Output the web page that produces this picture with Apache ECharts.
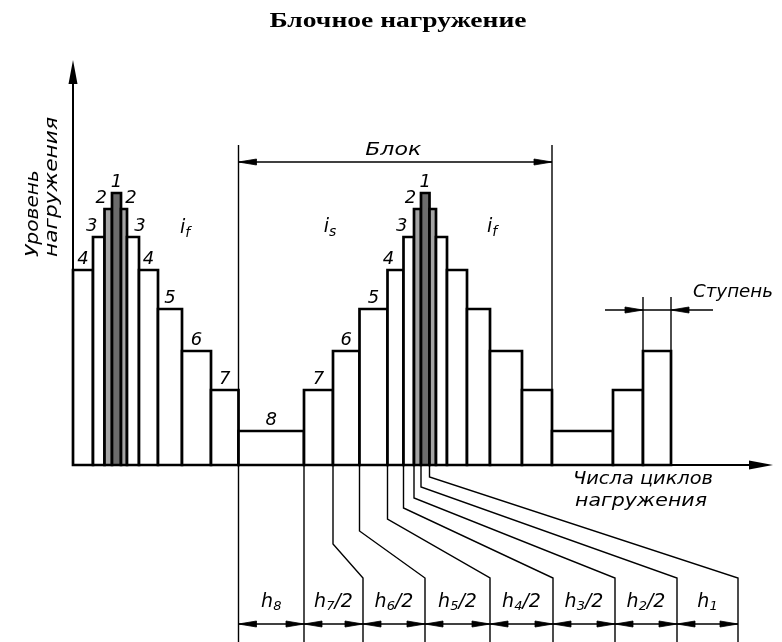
<!DOCTYPE html>
<html><head><meta charset="utf-8">
<script src="https://cdn.jsdelivr.net/npm/echarts@6/dist/echarts.min.js"></script>
<style>html,body{margin:0;padding:0;background:#fff}#c{width:782px;height:642px}</style>
</head><body><div id="c"></div>
<script>
// ---------------- DATA ----------------
const chartTitle = 'Блочное нагружение';
const levelNames = ['1', '2', '3', '4', '5', '6', '7', '8'];
const levelValues = [272, 256, 228, 195, 156, 114, 75, 34];          // load level of each step number
const stepLevels = [4, 3, 2, 1, 2, 3, 4, 5, 6, 7,
                    8, 7, 6, 5, 4, 3, 2, 1, 2, 3, 4, 5, 6, 7,
                    8, 7, 6];                                          // sequence of load steps
const stepCycles = [20, 11.5, 7.5, 9, 6, 12, 19, 24, 29, 27.5,
                    65.5, 29, 26.5, 28, 16, 10.5, 7, 8.5, 6.5, 11, 20, 23, 32, 30,
                    61, 30, 28];                                       // cycles in each step
const stepLabeled = [1, 1, 1, 1, 1, 1, 1, 1, 1, 1,
                     1, 1, 1, 1, 1, 1, 1, 1, 0, 0, 0, 0, 0, 0,
                     0, 0, 0];
const countLabels = [['8', ''], ['7', '/2'], ['6', '/2'], ['5', '/2'], ['4', '/2'], ['3', '/2'], ['2', '/2'], ['1', '']];
const countCycles = [65.5, 59, 62, 65, 63, 62, 62, 61];               // dimension chain below the axis
const zoneSubs = ['f', 's', 'f'];
const yName = ['Уровень', 'нагружения'];
const xName = ['Числа циклов', 'нагружения'];
const blockName = 'Блок';
const stepName = 'Ступень';

// ---------------- LAYOUT ----------------
const FONT = '"DejaVu Sans", sans-serif';
const cv = document.createElement('canvas').getContext('2d');
function tw(font, s) { cv.font = font; return cv.measureText(s).width; }

const stepEdges = [0];
stepCycles.forEach(function (w, i) { stepEdges.push(stepEdges[i] + w); });
const countEdges = [stepEdges[10]];
countCycles.forEach(function (w, i) { countEdges.push(countEdges[i] + w); });

const blockStartIdx = 10, blockEndIdx = 24;
const stepDimIdx = 26;
const connectorFrom = [12, 13, 14, 15, 16, 17, 18];
const connectorKnee = [-79, -66, -54, -43, -33, -22, -12];
const kneeBottom = -113, chainY = -159, chainLabelY = -137, bottomY = -185;
const zonePos = [[112, 237], [257, 238], [419, 238]];

const barData = stepLevels.map(function (lvl, i) {
  const w = stepCycles[i];
  let shift = 0;
  if (w <= 16 && lvl !== 1) {
    const next = stepLevels[i + 1], prev = stepLevels[i - 1];
    if (next != null && next < lvl) shift = -7;
    else if (prev != null && prev < lvl) shift = 7;
  }
  return [stepEdges[i], stepEdges[i + 1], levelValues[lvl - 1], stepLabeled[i], lvl, shift];
});

function fillFor(lvl) { return lvl === 1 ? '#6c6c6c' : (lvl === 2 ? '#a4a4a4' : '#fff'); }

function renderBar(params, api) {
  const x0 = api.value(0), x1 = api.value(1), h = api.value(2);
  const lab = api.value(3), lvl = api.value(4), shift = api.value(5);
  const p0 = api.coord([x0, 0]), p1 = api.coord([x1, h]);
  const children = [{
    type: 'rect',
    shape: { x: p0[0], y: p1[1], width: p1[0] - p0[0], height: p0[1] - p1[1] },
    style: { fill: fillFor(lvl), stroke: '#000', lineWidth: 2.7 }
  }];
  if (lab) {
    children.push({
      type: 'text',
      style: {
        text: levelNames[lvl - 1], x: (p0[0] + p1[0]) / 2 + shift, y: p1[1] - 2,
        align: 'center', verticalAlign: 'bottom', font: 'italic 18px ' + FONT, fill: '#000'
      }
    });
  }
  return { type: 'group', children: children };
}

function arrowHead(tip, dx, dy) {
  const L = 18, W = 6;
  const bx = tip[0] - dx * L, by = tip[1] - dy * L;
  const px = -dy * W / 2, py = dx * W / 2;
  return { type: 'polygon', shape: { points: [tip, [bx + px, by + py], [bx - px, by - py]] }, style: { fill: '#000', stroke: '#000', lineWidth: 0.8 } };
}

function pieces(parts, cx, cy) {
  // parts: [text, fontSize, dy]
  let total = 0;
  const ws = parts.map(function (p) { const w = tw('italic ' + p[1] + 'px ' + FONT, p[0]); total += w; return w; });
  let x = cx - total / 2;
  return parts.map(function (p, i) {
    const el = { type: 'text', style: { text: p[0], x: x, y: cy + p[2], align: 'left', verticalAlign: 'middle', font: 'italic ' + p[1] + 'px ' + FONT, fill: '#000' } };
    x += ws[i];
    return el;
  });
}

function fitted(text, font, width, x, y, align, rotation) {
  return {
    type: 'text', x: x, y: y, rotation: rotation || 0, scaleX: width / tw(font, text),
    style: { text: text, font: font, fill: '#000', align: align || 'center', verticalAlign: 'middle' }
  };
}

function renderAnn(params, api) {
  const c = function (x, y) { return api.coord([x, y]); };
  const els = [];
  function line(pts, w) { els.push({ type: 'polyline', shape: { points: pts }, style: { stroke: '#000', lineWidth: w || 1.4, fill: null } }); }

  // "Блок" dimension
  const bx0 = stepEdges[blockStartIdx], bx1 = stepEdges[blockEndIdx];
  line([c(bx0, 320), c(bx0, bottomY)]);
  line([c(bx1, 320), c(bx1, 0)]);
  line([c(bx0, 303), c(bx1, 303)]);
  els.push(arrowHead(c(bx0, 303), -1, 0));
  els.push(arrowHead(c(bx1, 303), 1, 0));
  const bt = c((bx0 + bx1) / 2, 315);
  els.push(fitted(blockName, 'italic 18px ' + FONT, 56, bt[0] - 2, bt[1]));

  // "Ступень" dimension
  const sx0 = stepEdges[stepDimIdx], sx1 = stepEdges[stepDimIdx + 1];
  const top = levelValues[stepLevels[stepDimIdx] - 1];
  line([c(sx0, 168), c(sx0, top)]);
  line([c(sx1, 168), c(sx1, top)]);
  line([c(sx0 - 38, 155), c(sx1 + 42, 155)]);
  els.push(arrowHead(c(sx0, 155), 1, 0));
  els.push(arrowHead(c(sx1, 155), -1, 0));
  const st = c(sx1 + 22, 173);
  els.push(fitted(stepName, 'italic 18px ' + FONT, 80, st[0], st[1], 'left'));

  // zone marks i_f, i_s
  zoneSubs.forEach(function (s, i) {
    const p = c(zonePos[i][0], zonePos[i][1]);
    pieces([['i', 19, 0], [s, 14, 5]], p[0], p[1]).forEach(function (e) { els.push(e); });
  });

  // chain straight verticals
  line([c(countEdges[1], 0), c(countEdges[1], bottomY)]);
  // connectors
  connectorFrom.forEach(function (idx, i) {
    const x = stepEdges[idx];
    const tx = countEdges[i + 2];
    line([c(x, 0), c(x, connectorKnee[i]), c(tx, kneeBottom), c(tx, bottomY)]);
  });
  // dimension chain
  line([c(countEdges[0], chainY), c(countEdges[countEdges.length - 1], chainY)]);
  for (let i = 0; i < countEdges.length - 1; i++) {
    els.push(arrowHead(c(countEdges[i], chainY), -1, 0));
    els.push(arrowHead(c(countEdges[i + 1], chainY), 1, 0));
    const m = c((countEdges[i] + countEdges[i + 1]) / 2, chainLabelY);
    const parts = [['h', 19, 0], [countLabels[i][0], 13, 5]];
    if (countLabels[i][1]) parts.push([countLabels[i][1], 19, 0]);
    pieces(parts, m[0], m[1]).forEach(function (e) { els.push(e); });
  }
  return { type: 'group', children: els };
}

const chart = echarts.init(document.getElementById('c'), null, { renderer: 'canvas' });
const axisCommon = {
  type: 'value', min: 0,
  axisLine: { show: true, onZero: false, symbol: ['none', 'triangle'], symbolSize: [9, 24], lineStyle: { color: '#000', width: 2 } },
  axisTick: { show: false }, axisLabel: { show: false }, splitLine: { show: false }
};
chart.setOption({
  animation: false,
  backgroundColor: '#fff',
  grid: { left: 73, top: 72, right: 21, bottom: 177, containLabel: false },
  xAxis: Object.assign({}, axisCommon, { max: 688 }),
  yAxis: Object.assign({}, axisCommon, { max: 393 }),
  graphic: [
    fitted(chartTitle, 'bold 20px "Liberation Serif", serif', 257, 398, 22),
    fitted(yName[0], 'italic 18px ' + FONT, 87, 33, 257, 'left', Math.PI / 2),
    fitted(yName[1], 'italic 18px ' + FONT, 140, 52, 257, 'left', Math.PI / 2),
    fitted(xName[0], 'italic 18px ' + FONT, 140, 643, 479),
    fitted(xName[1], 'italic 18px ' + FONT, 132, 641, 501)
  ],
  series: [
    { type: 'custom', clip: false, renderItem: renderBar, data: barData, silent: true, z: 3 },
    { type: 'custom', clip: false, renderItem: renderAnn, data: [[0]], silent: true, z: 4 }
  ]
});
</script></body></html>
